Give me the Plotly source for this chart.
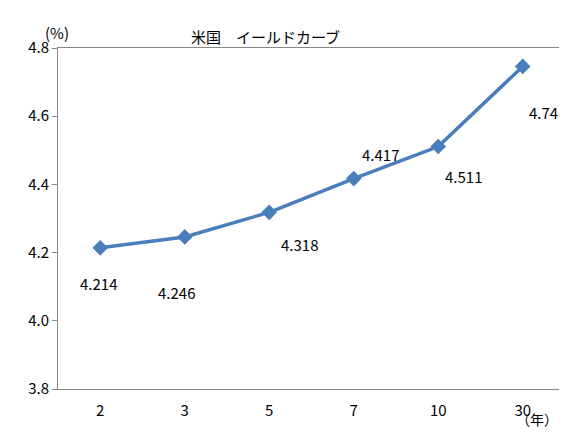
import plotly.graph_objects as go

years = ["2", "3", "5", "7", "10", "30"]
yields = [4.214, 4.246, 4.318, 4.417, 4.511, 4.746]
label_text = ["4.214", "4.246", "4.318", "4.417", "4.511", "4.746"]
label_dx = [-2, -8, 30, 27, 25, 25]
label_dy = [36, 56, 32, -24, 30, 46]

font = "Noto Sans CJK JP"
fig = go.Figure(go.Scatter(
    x=list(range(len(years))), y=yields, mode="lines+markers",
    line=dict(color="#4a7ebb", width=3.5),
    marker=dict(symbol="diamond", size=12, color="#4a7ebb"),
))
for i, (y, t, dx, dy) in enumerate(zip(yields, label_text, label_dx, label_dy)):
    fig.add_annotation(x=i, y=y, text=t, showarrow=False, xshift=dx, yshift=-dy,
                       font=dict(size=15, color="#000", family=font))
fig.add_annotation(text="米国　イールドカーブ", xref="paper", yref="paper", x=0.41, y=1.0,
                   yshift=24, showarrow=False, font=dict(size=15, family=font, color="#000"))
fig.add_annotation(text="(%)", xref="paper", yref="paper", x=-0.03, y=1.0,
                   yshift=28, showarrow=False, font=dict(size=15, family=font, color="#000"))
fig.add_annotation(text="（年）", xref="paper", yref="paper", x=0.99, y=0,
                   yshift=-42, showarrow=False, font=dict(size=14, family=font, color="#000"))
fig.update_layout(
    width=567, height=438, margin=dict(l=50, r=10, t=40, b=57),
    paper_bgcolor="white", plot_bgcolor="white", showlegend=False,
    font=dict(family=font, size=15, color="#000"),
)
fig.update_xaxes(range=[-0.5, len(years) - 0.5], tickmode="array",
                 tickvals=list(range(len(years))), ticktext=years,
                 showline=True, linecolor="#888", mirror=True,
                 ticks="", showgrid=False, ticklabelstandoff=8, zeroline=False)
fig.update_yaxes(range=[3.8, 4.8], dtick=0.2, tickformat=".1f", showline=True,
                 linecolor="#888", mirror=True, showgrid=False, ticks="outside",
                 ticklen=5, tickcolor="#888", zeroline=False)
fig.write_html("out.html")
